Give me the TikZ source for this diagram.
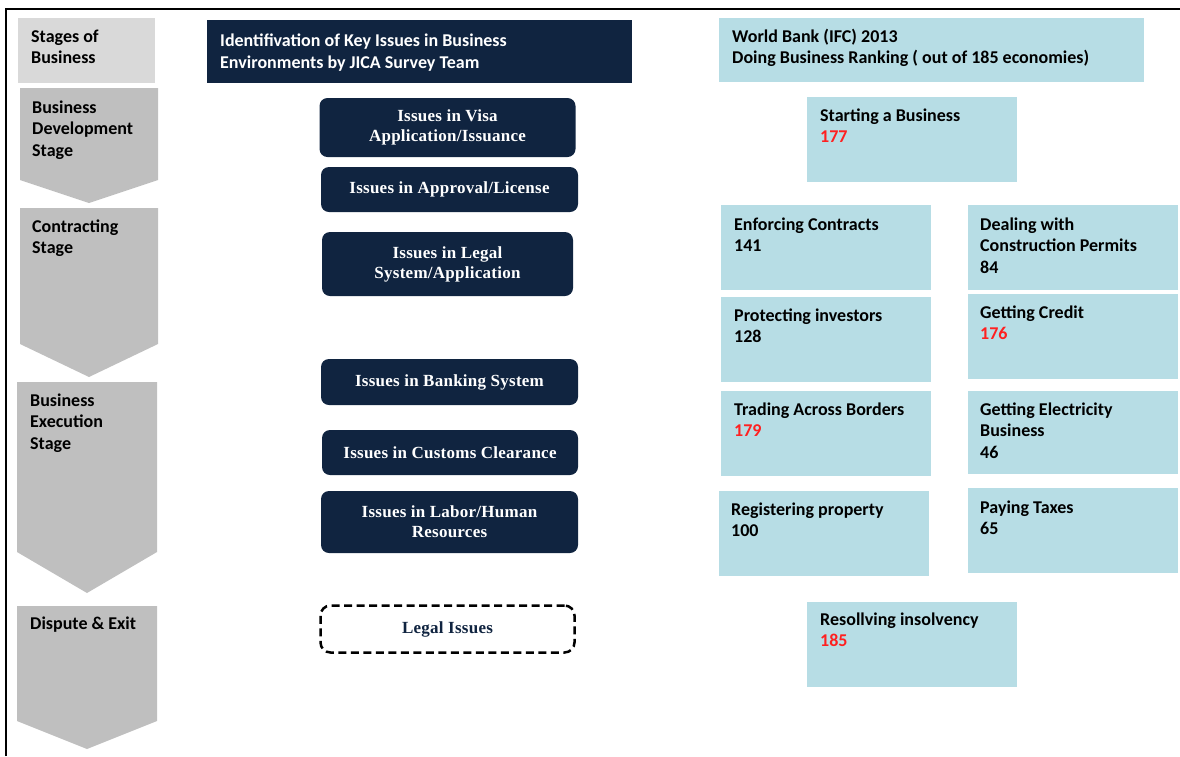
\documentclass[tikz,border=0pt]{standalone}
\usepackage{fontspec}
\setmainfont{Carlito}
\newfontfamily\tnrfont[LetterSpace=1.5]{Liberation Serif}
\definecolor{navy}{RGB}{16,36,64}
\definecolor{lblue}{RGB}{183,221,229}
\definecolor{chevgray}{RGB}{191,191,191}
\definecolor{hdrgray}{RGB}{217,217,217}
\definecolor{rankred}{RGB}{255,32,32}
\newcommand{\mkblue}[5]{\node[bluebox, minimum width=#4pt, minimum height=#5pt] (#1) at (#2,#3) {};}
\begin{document}
\begin{tikzpicture}[x=1pt,y=-1pt,
  bluebox/.style={fill=lblue, draw=none, inner sep=0pt, anchor=north west},
  txt/.style={anchor=base west, align=left, inner sep=0pt, font=\fontsize{18}{21.5}\selectfont\bfseries},
  issue/.style={fill=navy, rounded corners=8pt, text=white, align=center, inner sep=0pt,
    font=\fontsize{17}{20}\tnrfont\bfseries},
  chevron/.style={fill=chevgray, draw=none},
  frameline/.style={line width=2.5pt, black}
]
\useasboundingbox (0,0) rectangle (1180,756);

% frame
\coordinate (ftl) at (6,9);
\coordinate (ftr) at (1180,9);
\coordinate (fbl) at (6,756);
\draw[frameline] (fbl) -- (ftl) -- (ftr);

% stages column (base anchor = baseline of the last line)
\node[fill=hdrgray, anchor=north west, minimum width=137pt, minimum height=65pt, inner sep=0pt] (stagehdr) at (18,18) {};
\node[txt] (stagehdrtxt) at ([shift={(13,45.5)}]stagehdr.north west) {Stages of\\Business};

\coordinate (bd) at (20,88);
\fill[chevron] (bd) -- (158,88) -- (158,180) -- (89,203) -- (20,180) -- cycle;
\node[txt] (bdtxt) at ([shift={(12,68)}]bd) {Business\\Development\\Stage};

\coordinate (ct) at (20,208);
\fill[chevron] (ct) -- (158,208) -- (158,344) -- (89,377) -- (20,344) -- cycle;
\node[txt] (cttxt) at ([shift={(12,45.5)}]ct) {Contracting\\Stage};

\coordinate (ex) at (17,382);
\fill[chevron] (ex) -- (157,382) -- (157,552) -- (87,593) -- (17,552) -- cycle;
\node[txt] (extxt) at ([shift={(13,67)}]ex) {Business\\Execution\\Stage};

\coordinate (de) at (17,606);
\fill[chevron] (de) -- (157,606) -- (157,721) -- (87,749) -- (17,721) -- cycle;
\node[txt] (detxt) at ([shift={(13,23)}]de) {Dispute \& Exit};

% JICA column
\node[fill=navy, anchor=north west, minimum width=425pt, minimum height=63pt, inner sep=0pt] (hdr) at (207,20) {};
\node[txt, text=white] (hdrtxt) at ([shift={(13,48)}]hdr.north west) {Identifivation of Key Issues in Business\\Environments by JICA Survey Team};

\node[issue, minimum width=256pt, minimum height=59pt] (visa) at (447.5,127.5) {Issues in Visa\\Application/Issuance};
\node[issue, minimum width=257pt, minimum height=45pt] (approval) at (449.5,189.5) {Issues in Approval/License};
\node[issue, minimum width=251pt, minimum height=64pt] (legalsys) at (447.5,264) {Issues in Legal\\System/Application};
\node[issue, minimum width=257pt, minimum height=46pt] (banking) at (449.5,382) {Issues in Banking System};
\node[issue, minimum width=256pt, minimum height=45pt] (customs) at (450,452.5) {Issues in Customs Clearance};
\node[issue, minimum width=257pt, minimum height=62pt] (labor) at (449.5,522) {Issues in Labor/Human\\Resources};
\node[issue, fill=white, draw=black, text=navy, line width=2.5pt, dash pattern=on 8pt off 4.5pt,
  rounded corners=10pt, minimum width=254pt, minimum height=47pt] (legal) at (447.5,629) {Legal Issues};

% World Bank column
\mkblue{wb}{719}{18}{425}{64}
\node[txt] (wbtxt) at ([shift={(13,45.5)}]wb.north west) {World Bank (IFC) 2013\\Doing Business Ranking ( out of 185 economies)};

\mkblue{start}{807}{97}{210}{85}
\node[txt] (starttxt) at ([shift={(13,45.5)}]start.north west) {Starting a Business\\\textcolor{rankred}{177}};

\mkblue{enf}{721}{205}{210}{85}
\node[txt] (enftxt) at ([shift={(13,46.5)}]enf.north west) {Enforcing Contracts\\141};

\mkblue{deal}{968}{205}{210}{85}
\node[txt] (dealtxt) at ([shift={(12,68)}]deal.north west) {Dealing with\\Construction Permits\\84};

\mkblue{prot}{721}{297}{210}{85}
\node[txt] (prottxt) at ([shift={(13,45.5)}]prot.north west) {Protecting investors\\128};

\mkblue{credit}{968}{294}{210}{85}
\node[txt] (credittxt) at ([shift={(12,45.5)}]credit.north west) {Getting Credit\\\textcolor{rankred}{176}};

\mkblue{trade}{721}{391}{210}{85}
\node[txt] (tradetxt) at ([shift={(13,45.5)}]trade.north west) {Trading Across Borders\\\textcolor{rankred}{179}};

\mkblue{elec}{968}{391}{210}{83}
\node[txt] (electxt) at ([shift={(12,67)}]elec.north west) {Getting Electricity\\Business\\46};

\mkblue{reg}{719}{491}{210}{85}
\node[txt] (regtxt) at ([shift={(12,45.5)}]reg.north west) {Registering property\\100};

\mkblue{tax}{968}{488}{210}{85}
\node[txt] (taxtxt) at ([shift={(12,46.5)}]tax.north west) {Paying Taxes\\65};

\mkblue{insolv}{807}{602}{210}{85}
\node[txt] (insolvtxt) at ([shift={(13,44.5)}]insolv.north west) {Resollving insolvency\\\textcolor{rankred}{185}};
\end{tikzpicture}
\end{document}
